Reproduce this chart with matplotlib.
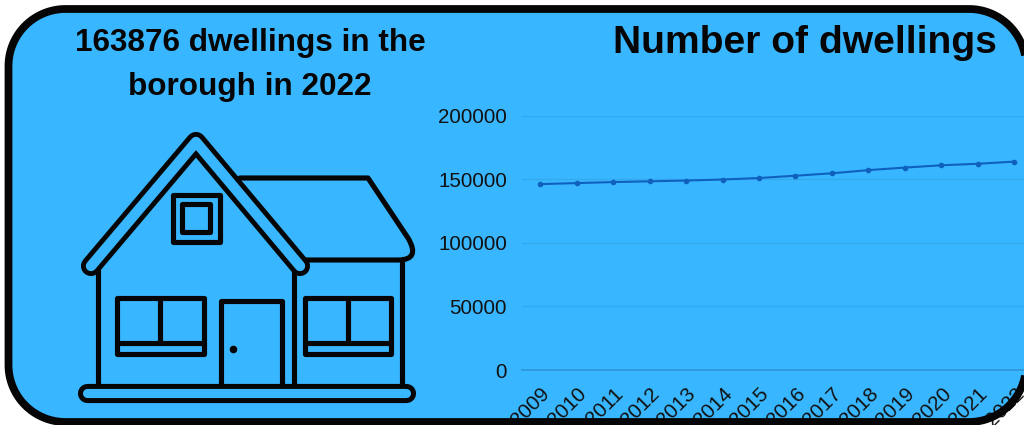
import numpy as np
import matplotlib
matplotlib.use("Agg")
import matplotlib.pyplot as plt
from matplotlib.patches import Polygon, Rectangle, Circle, PathPatch
from matplotlib.path import Path

years = [2009, 2010, 2011, 2012, 2013, 2014, 2015, 2016, 2017, 2018, 2019, 2020, 2021, 2022]
dwellings = [146200, 147000, 147800, 148400, 149000, 149800, 151000, 152800,
             154700, 157200, 159200, 161000, 162200, 163876]
y_ticks = [0, 50000, 100000, 150000, 200000]
headline = "163876 dwellings in the\nborough in 2022"
chart_title = "Number of dwellings"

W, H = 1024, 425
BLUE = "#38B6FF"
INK = "#050505"
plt.rcParams["font.family"] = ["Liberation Sans", "DejaVu Sans"]

fig = plt.figure(figsize=(W / 100, H / 100), dpi=100, facecolor="white")


def pixel_axes(zorder):
    a = fig.add_axes([0, 0, 1, 1], zorder=zorder)
    a.set_xlim(0, W)
    a.set_ylim(H, 0)
    a.axis("off")
    a.patch.set_alpha(0)
    return a


def card_outline(x0=8.5, y0=9.0, x1=1026.0, y1=422.0, r=57.0):
    # Rounded rectangle as a plain polygon, walked clockwise on screen
    centres = [(x1 - r, y0 + r, -90), (x1 - r, y1 - r, 0), (x0 + r, y1 - r, 90), (x0 + r, y0 + r, 180)]
    pts = []
    for cx, cy, start in centres:
        t = np.radians(np.linspace(start, start + 90, 40))
        pts.append(np.column_stack([cx + r * np.cos(t), cy + r * np.sin(t)]))
    return np.vstack(pts)


# Card fill sits behind everything
back = pixel_axes(0)
fill = Polygon(card_outline(), closed=True, facecolor=BLUE, edgecolor="none")
back.add_patch(fill)

# Line chart
left, right, top, bottom = 522, 1032.4, 115.7, 370
ax = fig.add_axes([left / W, 1 - bottom / H, (right - left) / W, (bottom - top) / H], zorder=1)
ax.patch.set_alpha(0)
ax.set_xlim(-0.5, len(years) - 0.5)
ax.set_ylim(0, 200000)
ax.plot(range(len(years)), dwellings, color="#1060BE", lw=1.5, marker="o", ms=3.0, zorder=3)
ax.set_yticks(y_ticks)
ax.set_yticklabels([str(v) for v in y_ticks], fontsize=14.8, color="#111111")
ax.set_xticks(range(len(years)))
ax.set_xticklabels([str(y) for y in years], fontsize=14.8, color="#111111", rotation=45,
                   ha="right", rotation_mode="anchor")
ax.tick_params(length=0)
ax.tick_params(axis="y", pad=10.7)
ax.tick_params(axis="x", pad=10)
ax.grid(axis="y", color="#33A9EE", lw=1.0)
ax.set_axisbelow(True)
for s in ax.spines.values():
    s.set_visible(False)
ax.axhline(0, color="#2F9BDC", lw=1.4, clip_on=False)
for lab in ax.get_xticklabels():
    lab.set_clip_on(True)
    lab.set_clip_path(fill)

# Foreground: icon, headings, card outline
fg = pixel_axes(2)
STROKE = 3.7


def stroke(xs, ys, color=INK, lw=STROKE, cap="round", join="round"):
    fg.plot(xs, ys, color=color, lw=lw, solid_capstyle=cap, solid_joinstyle=join)


def box(x0, y0, x1, y1):
    fg.add_patch(Rectangle((x0, y0), x1 - x0, y1 - y0, fill=False, ec=INK, lw=STROKE, joinstyle="round"))


# Side wing roof
wing = Path([(240, 178), (368, 178), (408, 238), (421, 260), (398, 260), (305, 260)],
            [Path.MOVETO, Path.LINETO, Path.LINETO, Path.CURVE3, Path.CURVE3, Path.LINETO])
fg.add_patch(PathPatch(wing, fill=False, ec=INK, lw=STROKE, joinstyle="round", capstyle="round"))

# Walls
stroke([98, 98], [268, 386])
stroke([293.5, 293.5], [268, 386])
stroke([402, 402], [261, 386])

# Main gable band: a thick dark stroke with a thinner fill on top
gx, gy = [91, 196, 300], [266, 142, 266]
stroke(gx, gy, lw=14.5)
stroke(gx, gy, color=BLUE, lw=7.5)

# Attic window
box(172.5, 195, 219.5, 241.5)
box(181.5, 204, 210, 232)

# Lower windows
for x0, x1, xm in [(117, 203.5, 160), (305, 391, 348)]:
    box(x0, 298, x1, 354)
    stroke([xm, xm], [298, 342])
    stroke([x0, x1], [342.5, 342.5], cap="butt")

# Door
stroke([221, 221, 282, 282], [386, 301, 301, 386])
fg.add_patch(Circle((233.5, 349.5), 3.8, fc=INK, ec="none"))

# Base slab
stroke([87, 406], [392.7, 392.7], lw=13.8)
stroke([87, 406], [392.7, 392.7], color=BLUE, lw=6.6)

fg.text(250, 65, headline, ha="center", va="center", fontsize=22.7, fontweight="bold",
        color=INK, linespacing=1.6)
fg.text(997, 43, chart_title, ha="right", va="center", fontsize=28.1, fontweight="bold", color=INK)

fg.add_patch(Polygon(card_outline(), closed=True, facecolor="none", edgecolor=INK, lw=5.6,
                     joinstyle="round"))

fig.savefig("out.png", dpi=100)
